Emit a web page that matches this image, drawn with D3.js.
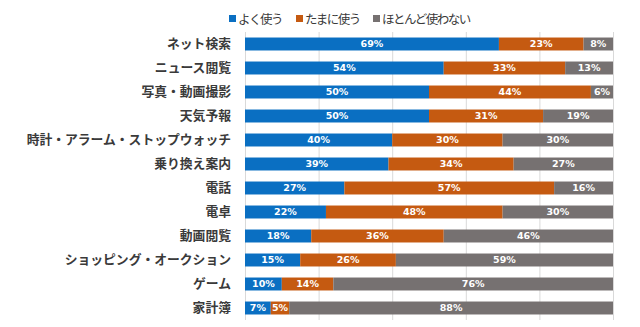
<!DOCTYPE html>
<html>
<head>
<meta charset="utf-8">
<script src="https://cdn.jsdelivr.net/npm/d3@7.9.0/dist/d3.min.js"></script>
<style>
  body { margin: 0; background: #fff; }
  svg text { font-family: "Noto Sans CJK JP", sans-serif; }
</style>
</head>
<body>
<svg width="640" height="327"></svg>
<script>
const categories = ['ネット検索', 'ニュース閲覧', '写真・動画撮影', '天気予報', '時計・アラーム・ストップウォッチ',
  '乗り換え案内', '電話', '電卓', '動画閲覧', 'ショッピング・オークション', 'ゲーム', '家計簿'];
const seriesNames = ['よく使う', 'たまに使う', 'ほとんど使わない'];
const often = [69, 54, 50, 50, 40, 39, 27, 22, 18, 15, 10, 7];
const sometimes = [23, 33, 44, 31, 30, 34, 57, 48, 36, 26, 14, 5];
const rarely = [8, 13, 6, 19, 30, 27, 16, 30, 46, 59, 76, 88];
const xTicks = [0, 20, 40, 60, 80, 100];
const colors = ['#0a6fc2', '#c55a11', '#767171'];

const rows = categories.map((c, i) => ({ cat: c, s0: often[i], s1: sometimes[i], s2: rarely[i] }));
const stack = d3.stack().keys(['s0', 's1', 's2'])(rows);

const svg = d3.select('svg');
const x = d3.scaleLinear().domain([0, 100]).range([245, 613]);
const y = d3.scaleBand().domain(categories).range([32, 320]).paddingInner(0.46).paddingOuter(0.23);

// gridlines
svg.append('g').selectAll('line').data(xTicks).join('line')
  .attr('x1', d => x(d) + 0.5).attr('x2', d => x(d) + 0.5)
  .attr('y1', 32).attr('y2', 320)
  .attr('stroke', '#d9d9d9').attr('stroke-width', 1);

// bars
const layers = svg.append('g').selectAll('g').data(stack).join('g')
  .attr('fill', (d, i) => colors[i]);

layers.selectAll('rect').data(d => d).join('rect')
  .attr('x', d => x(d[0]))
  .attr('y', d => y(d.data.cat))
  .attr('width', d => x(d[1]) - x(d[0]))
  .attr('height', y.bandwidth());

// value labels
layers.selectAll('text').data(d => d).join('text')
  .attr('x', d => (x(d[0]) + x(d[1])) / 2)
  .attr('y', d => y(d.data.cat) + y.bandwidth() / 2)
  .attr('dy', '0.36em')
  .attr('text-anchor', 'middle')
  .attr('fill', '#fff')
  .style('font-family', '"DejaVu Sans", sans-serif')
  .style('font-weight', 'bold')
  .style('font-size', '9.5px')
  .text(d => (d[1] - d[0]) + '%');

// category axis
const yAxis = svg.append('g').attr('transform', 'translate(231,0)')
  .call(d3.axisLeft(y).tickSize(0).tickPadding(0));
yAxis.select('.domain').remove();
yAxis.selectAll('text')
  .style('font-family', '"Noto Sans CJK JP", sans-serif')
  .style('font-size', '12.8px')
  .style('font-weight', 'bold')
  .attr('fill', '#3a3a3a');

// legend
const legendX = [229, 296, 373];
const legend = svg.append('g').selectAll('g').data(seriesNames).join('g')
  .attr('transform', (d, i) => `translate(${legendX[i]},0)`);
legend.append('rect').attr('x', 0).attr('y', 15).attr('width', 7).attr('height', 7)
  .attr('fill', (d, i) => colors[i]);
legend.append('text').attr('x', 9).attr('y', 19).attr('dy', '0.38em')
  .style('font-size', '12.5px')
  .style('letter-spacing', '-1.5px')
  .attr('fill', '#3a3a3a')
  .text(d => d);
</script>
</body>
</html>
